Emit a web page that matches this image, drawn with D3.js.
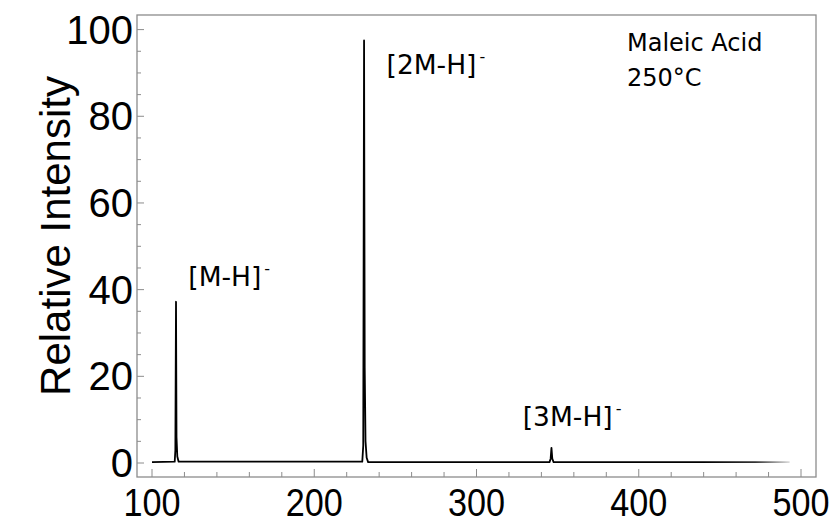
<!DOCTYPE html>
<html>
<head>
<meta charset="utf-8">
<script src="https://cdn.jsdelivr.net/npm/d3@7"></script>
<style>
  body { margin: 0; background: #fff; }
  svg { display: block; }
</style>
</head>
<body>
<div id="chart"></div>
<script>
// spectrum: [m/z, relative intensity]
const spectrum = [
  [100, 0.2], [114.0, 0.3], [114.4, 3], [114.8, 37.2], [115.1, 6], [115.6, 1.5], [116.4, 0.3],
  [229.6, 0.3], [230.2, 4], [230.7, 97.5], [231.1, 22], [231.6, 5], [232.3, 1.2], [233.2, 0.2],
  [345, 0.2], [345.7, 1], [346.2, 3.5], [346.7, 1], [347.5, 0.2],
  [493, 0.2]
];
const xTickLabels = [100, 200, 300, 400, 500];
const yTickLabels = [0, 20, 40, 60, 80, 100];
const peakLabels = [
  {text: "[M-H]", mz: 115, y: 37},
  {text: "[2M-H]", mz: 231, y: 97},
  {text: "[3M-H]", mz: 347, y: 3.5}
];
const noteLines = ["Maleic Acid", "250°C"];

const width = 835, height = 525;
const frame = {left: 137, right: 816, top: 15, bottom: 477};

let svg = d3.select("#chart").append("svg")
    .attr("width", width)
    .attr("height", height);

let xScale = d3.scaleLinear().domain([100, 500]).range([152, 801]);
let yScale = d3.scaleLinear().domain([0, 100]).range([463, 29.6]);

// fade at the right end of the trace
let grad = svg.append("defs").append("linearGradient")
    .attr("id", "fade")
    .attr("gradientUnits", "userSpaceOnUse")
    .attr("x1", xScale(440)).attr("x2", xScale(493))
    .attr("y1", 0).attr("y2", 0);
grad.append("stop").attr("offset", 0).attr("stop-color", "#000");
grad.append("stop").attr("offset", 0.6).attr("stop-color", "#333");
grad.append("stop").attr("offset", 1).attr("stop-color", "#ddd");

// frame
svg.append("rect")
    .attr("x", frame.left).attr("y", frame.top)
    .attr("width", frame.right - frame.left)
    .attr("height", frame.bottom - frame.top)
    .style("fill", "none")
    .style("stroke", "#8c8c8c")
    .style("stroke-width", 1.3);

// x ticks (inside, from bottom edge)
let xMinor = d3.range(100, 501, 20);
svg.selectAll(".xtick").data(xMinor).enter().append("line")
    .attr("class", "xtick")
    .attr("x1", d => xScale(d)).attr("x2", d => xScale(d))
    .attr("y1", frame.bottom)
    .attr("y2", d => frame.bottom - (d % 100 === 0 ? 8 : 5))
    .style("stroke", "#8c8c8c").style("stroke-width", 1);

// y ticks (inside, from left edge)
let yMinor = d3.range(0, 101, 5);
svg.selectAll(".ytick").data(yMinor).enter().append("line")
    .attr("class", "ytick")
    .attr("y1", d => yScale(d)).attr("y2", d => yScale(d))
    .attr("x1", frame.left)
    .attr("x2", d => frame.left + (d % 20 === 0 ? 7 : 4))
    .style("stroke", "#8c8c8c").style("stroke-width", 1);

// tick labels
svg.selectAll(".xlab").data(xTickLabels).enter().append("text")
    .attr("class", "xlab")
    .attr("transform", d => "translate(" + xScale(d) + ",516) scale(0.9,1)")
    .attr("text-anchor", "middle")
    .style("font-family", "'Liberation Sans', Arial, sans-serif")
    .style("font-size", "38px")
    .text(d => d);

svg.selectAll(".ylab").data(yTickLabels).enter().append("text")
    .attr("class", "ylab")
    .attr("x", 133)
    .attr("y", d => yScale(d) + 14)
    .attr("text-anchor", "end")
    .style("font-family", "'Liberation Sans', Arial, sans-serif")
    .style("font-size", "40px")
    .text(d => d);

// axis title
svg.append("text")
    .attr("transform", "translate(70," + 236 + ") rotate(-90)")
    .attr("text-anchor", "middle")
    .style("font-family", "'Liberation Sans', Arial, sans-serif")
    .style("font-size", "42px")
    .text("Relative Intensity");

// spectrum line
let line = d3.line()
    .x(d => xScale(d[0]))
    .y(d => yScale(d[1]));

svg.append("path")
    .datum(spectrum)
    .attr("d", line)
    .style("fill", "none")
    .style("stroke", "url(#fade)")
    .style("stroke-width", 1.8)
    .style("stroke-linejoin", "round");

// peak labels
let labOffsets = [{dx: 12, y: 286}, {dx: 22, y: 74}, {dx: -30, y: 426}];
peakLabels.forEach((p, i) => {
    let t = svg.append("text")
        .attr("x", xScale(p.mz) + labOffsets[i].dx)
        .attr("y", labOffsets[i].y)
        .style("font-family", "'DejaVu Sans', sans-serif")
        .style("font-size", "26.5px")
        .text(p.text);
    t.append("tspan")
        .attr("dx", 3)
        .attr("dy", -12)
        .style("font-size", "16px")
        .text("-");
});

// annotation
svg.selectAll(".note").data(noteLines).enter().append("text")
    .attr("class", "note")
    .attr("x", 627)
    .attr("y", (d, i) => 51 + i * 35)
    .style("font-family", "'DejaVu Sans', sans-serif")
    .style("font-size", "24px")
    .text(d => d);
</script>
</body>
</html>
